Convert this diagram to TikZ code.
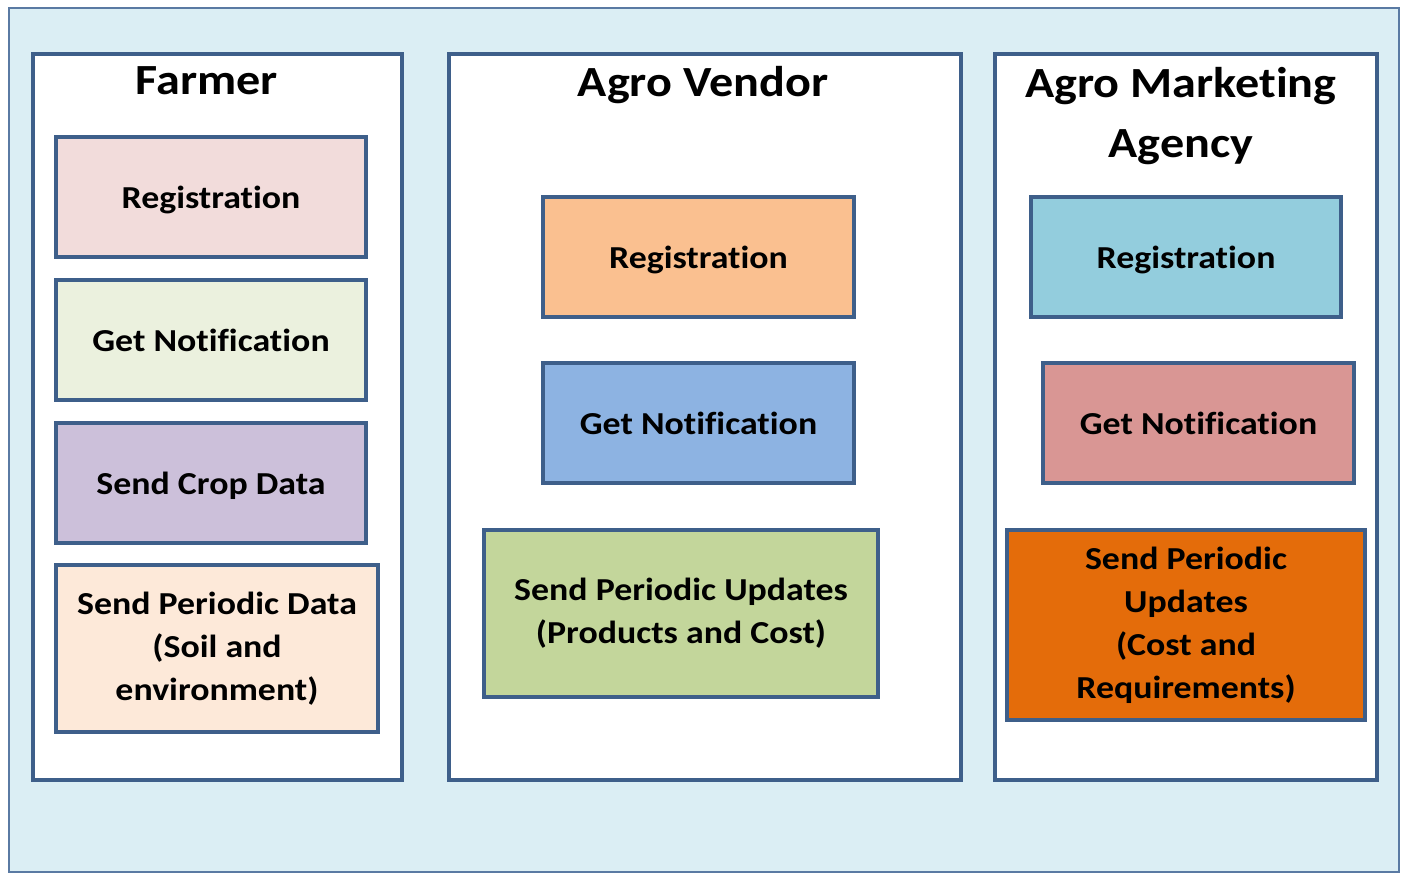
\documentclass[tikz,border=0pt]{standalone}
\usepackage{fontspec}
\setmainfont{Carlito}[FakeStretch=1.12, Ligatures=NoCommon]
\definecolor{bgblue}{HTML}{DBEEF4}
\definecolor{edge}{HTML}{3E5F8A}
\definecolor{outeredge}{HTML}{5A7AA3}
\definecolor{fReg}{HTML}{F2DCDB}
\definecolor{fNot}{HTML}{EBF1DE}
\definecolor{fCrop}{HTML}{CCC0DA}
\definecolor{fPer}{HTML}{FDE9D9}
\definecolor{vReg}{HTML}{FAC090}
\definecolor{vNot}{HTML}{8DB3E2}
\definecolor{vPer}{HTML}{C3D69B}
\definecolor{aReg}{HTML}{93CDDD}
\definecolor{aNot}{HTML}{D99694}
\definecolor{aPer}{HTML}{E46C0A}
\tikzset{
  panel/.style={draw=edge, line width=3.4pt, fill=white},
  taskbox/.style={draw=edge, line width=3.4pt, rectangle, inner sep=0pt, align=center,
    font=\fontsize{32}{43}\selectfont\bfseries, text=black},
  title/.style={font=\fontsize{43}{60}\selectfont\bfseries, align=center, anchor=base, text=black}
}
\begin{document}
\begin{tikzpicture}[x=1pt,y=-1pt]
\useasboundingbox (0,0) rectangle (1406,873);
\draw[fill=bgblue, draw=outeredge, line width=2.4pt] (9,8) rectangle (1399,872);
% panels
\draw[panel] (33,54) rectangle (402,780);
\draw[panel] (449,54) rectangle (961,780);
\draw[panel] (995,54) rectangle (1377,780);
% titles
\node[title] (tF) at (207,94) {Farmer};
\node[title] (tV) at (703,96) {Agro Vendor};
\node[title] (tA) at (1181,157) {Agro Marketing\\Agency};
% farmer
\node[taskbox, fill=fReg, minimum width=310pt, minimum height=120pt, text depth=0pt] (f1) at (211,197) {Registration};
\node[taskbox, fill=fNot, minimum width=310pt, minimum height=120pt, text depth=0pt] (f2) at (211,340) {Get Notification};
\node[taskbox, fill=fCrop, minimum width=310pt, minimum height=120pt, text depth=0pt] (f3) at (211,483) {Send Crop Data};
\node[taskbox, fill=fPer, minimum width=322pt, minimum height=167pt] (f4) at (217,648.5) {Send Periodic Data\\(Soil and\\environment)};
% vendor
\node[taskbox, fill=vReg, minimum width=311pt, minimum height=120pt, text depth=0pt] (v1) at (698.5,257) {Registration};
\node[taskbox, fill=vNot, minimum width=311pt, minimum height=120pt, text depth=0pt] (v2) at (698.5,423) {Get Notification};
\node[taskbox, fill=vPer, minimum width=394pt, minimum height=167pt] (v3) at (681,613.5) {Send Periodic Updates\\(Products and Cost)};
% agency
\node[taskbox, fill=aReg, minimum width=310pt, minimum height=120pt, text depth=0pt] (a1) at (1186,257) {Registration};
\node[taskbox, fill=aNot, minimum width=311pt, minimum height=120pt, text depth=0pt] (a2) at (1198.5,423) {Get Notification};
\node[taskbox, fill=aPer, minimum width=358pt, minimum height=190pt] (a3) at (1186,625) {Send Periodic\\Updates\\(Cost and\\Requirements)};
\end{tikzpicture}
\end{document}
